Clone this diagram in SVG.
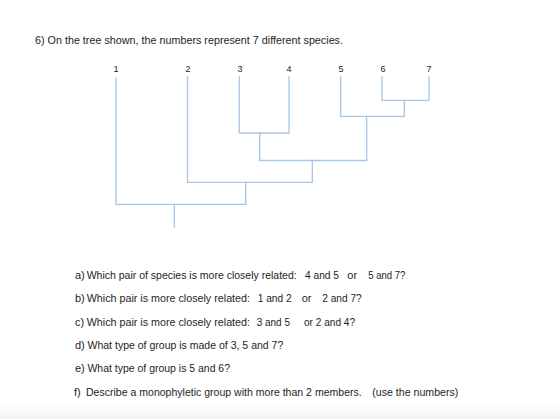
<svg xmlns="http://www.w3.org/2000/svg" width="560" height="419" viewBox="0 0 560 419">
<style>
text{font-family:"Liberation Sans",Arial,sans-serif;fill:#1e1e1e;}
.t{font-size:11px;}
.n{font-size:9px;text-anchor:middle;}
.e{stroke:#a8c6e6;stroke-width:1.3;fill:none;stroke-linecap:square;}
</style>
<defs>
<linearGradient id="bg" x1="0" y1="0" x2="0" y2="1">
<stop offset="0" stop-color="#ffffff"/>
<stop offset="1" stop-color="#f3f3f3"/>
</linearGradient>
</defs>
<rect width="560" height="419" fill="#ffffff"/>
<rect x="0" y="403" width="560" height="16" fill="url(#bg)"/>
<text class="t" x="35" y="44" textLength="308" lengthAdjust="spacingAndGlyphs">6)  On the tree shown, the numbers represent 7 different species.</text>
<g id="node-1"><text class="n" x="116" y="72">1</text></g>
<g id="node-2"><text class="n" x="188" y="72">2</text></g>
<g id="node-3"><text class="n" x="240" y="72">3</text></g>
<g id="node-4"><text class="n" x="289" y="72">4</text></g>
<g id="node-5"><text class="n" x="341" y="72">5</text></g>
<g id="node-6"><text class="n" x="383" y="72">6</text></g>
<g id="node-7"><text class="n" x="429" y="72">7</text></g>
<g id="connectors" class="e">
<path d="M382,77 V100.3 H429 V77"/>
<path d="M404.3,100.3 V116.3"/>
<path d="M340.7,77 V116.3 H404.3"/>
<path d="M239.3,77 V133 H289 V77"/>
<path d="M259.7,133 V160.5 H366.7 V116.3"/>
<path d="M312.3,160.5 V182.3"/>
<path d="M187.5,77 V182.3 H312.3"/>
<path d="M245.7,182.3 V204.3"/>
<path d="M116,78 V204.3 H245.7"/>
<path d="M174.3,204.3 V227"/>
</g>
<g id="questions" class="t">
<text x="75" y="279"><tspan x="75">a)</tspan><tspan x="86.7" textLength="210" lengthAdjust="spacingAndGlyphs">Which pair of species is more closely related:</tspan><tspan x="305" textLength="34" lengthAdjust="spacingAndGlyphs">4 and 5</tspan><tspan x="347.3">or</tspan><tspan x="368.3" textLength="37" lengthAdjust="spacingAndGlyphs">5 and 7?</tspan></text>
<text x="75" y="302"><tspan x="75">b)</tspan><tspan x="86.7" textLength="163.3" lengthAdjust="spacingAndGlyphs">Which pair is more closely related:</tspan><tspan x="257.7" textLength="34" lengthAdjust="spacingAndGlyphs">1 and 2</tspan><tspan x="301.7">or</tspan><tspan x="322.3" textLength="39.4" lengthAdjust="spacingAndGlyphs">2 and 7?</tspan></text>
<text x="75" y="325.5"><tspan x="75">c)</tspan><tspan x="86.7" textLength="163.3" lengthAdjust="spacingAndGlyphs">Which pair is more closely related:</tspan><tspan x="256.7" textLength="33.3" lengthAdjust="spacingAndGlyphs">3 and 5</tspan><tspan x="304" textLength="51" lengthAdjust="spacingAndGlyphs">or 2 and 4?</tspan></text>
<text x="75" y="349"><tspan x="75">d)</tspan><tspan x="87.5" textLength="195.8" lengthAdjust="spacingAndGlyphs">What type of group is made of 3, 5 and 7?</tspan></text>
<text x="75" y="372"><tspan x="75">e)</tspan><tspan x="87.5" textLength="142.5" lengthAdjust="spacingAndGlyphs">What type of group is 5 and 6?</tspan></text>
<text x="74" y="395.5"><tspan x="74">f)</tspan><tspan x="86" textLength="275.7" lengthAdjust="spacingAndGlyphs">Describe a monophyletic group with more than 2 members.</tspan><tspan x="372.3" textLength="86" lengthAdjust="spacingAndGlyphs">(use the numbers)</tspan></text>
</g>
</svg>
